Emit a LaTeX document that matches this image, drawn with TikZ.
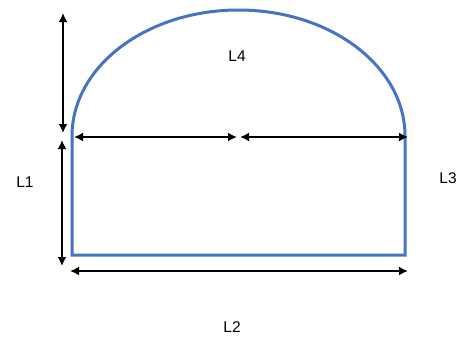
\documentclass[tikz,border=0pt]{standalone}
\usepackage{fontspec}
\setmainfont{Liberation Sans}
\usetikzlibrary{arrows.meta}
\definecolor{shapeblue}{RGB}{70,116,195}
\begin{document}
\begin{tikzpicture}[x=1pt,y=-1pt,
  outline/.style={draw=shapeblue,line width=3pt},
  dimarrow/.style={draw=black,line width=2.8pt,{Latex[length=9pt,width=9pt]}-{Latex[length=9pt,width=9pt]}},
  lbl/.style={font=\fontsize{15.5}{18}\selectfont,inner sep=0pt}]
\useasboundingbox (0,0) rectangle (460,338);
% shape
\coordinate (tl) at (72,136);
\coordinate (tr) at (405,136);
\coordinate (bl) at (72,255);
\coordinate (br) at (405,255);
\draw[outline] (tr) -- (br) -- (bl) -- (tl) arc[start angle=180,end angle=0,x radius=166.5,y radius=-126];
% dimension arrows
\coordinate (a1) at (63,13);
\coordinate (a2) at (63,133);
\draw[dimarrow] (a1) -- (a2);
\coordinate (b1) at (62,140);
\coordinate (b2) at (62,266);
\draw[dimarrow] (b1) -- (b2);
\coordinate (h1) at (74,137);
\coordinate (h2) at (237,137);
\coordinate (h3) at (240,137);
\coordinate (h4) at (408,137);
\draw[dimarrow] (h1) -- (h2);
\draw[dimarrow] (h3) -- (h4);
\coordinate (c1) at (70,271);
\coordinate (c2) at (408,271);
\draw[dimarrow] (c1) -- (c2);
% labels
\node[lbl] (L4) at (237,56) {L4};
\node[lbl] (L1) at (25,182) {L1};
\node[lbl] (L3) at (448,178) {L3};
\node[lbl] (L2) at (232,327) {L2};
\end{tikzpicture}
\end{document}
